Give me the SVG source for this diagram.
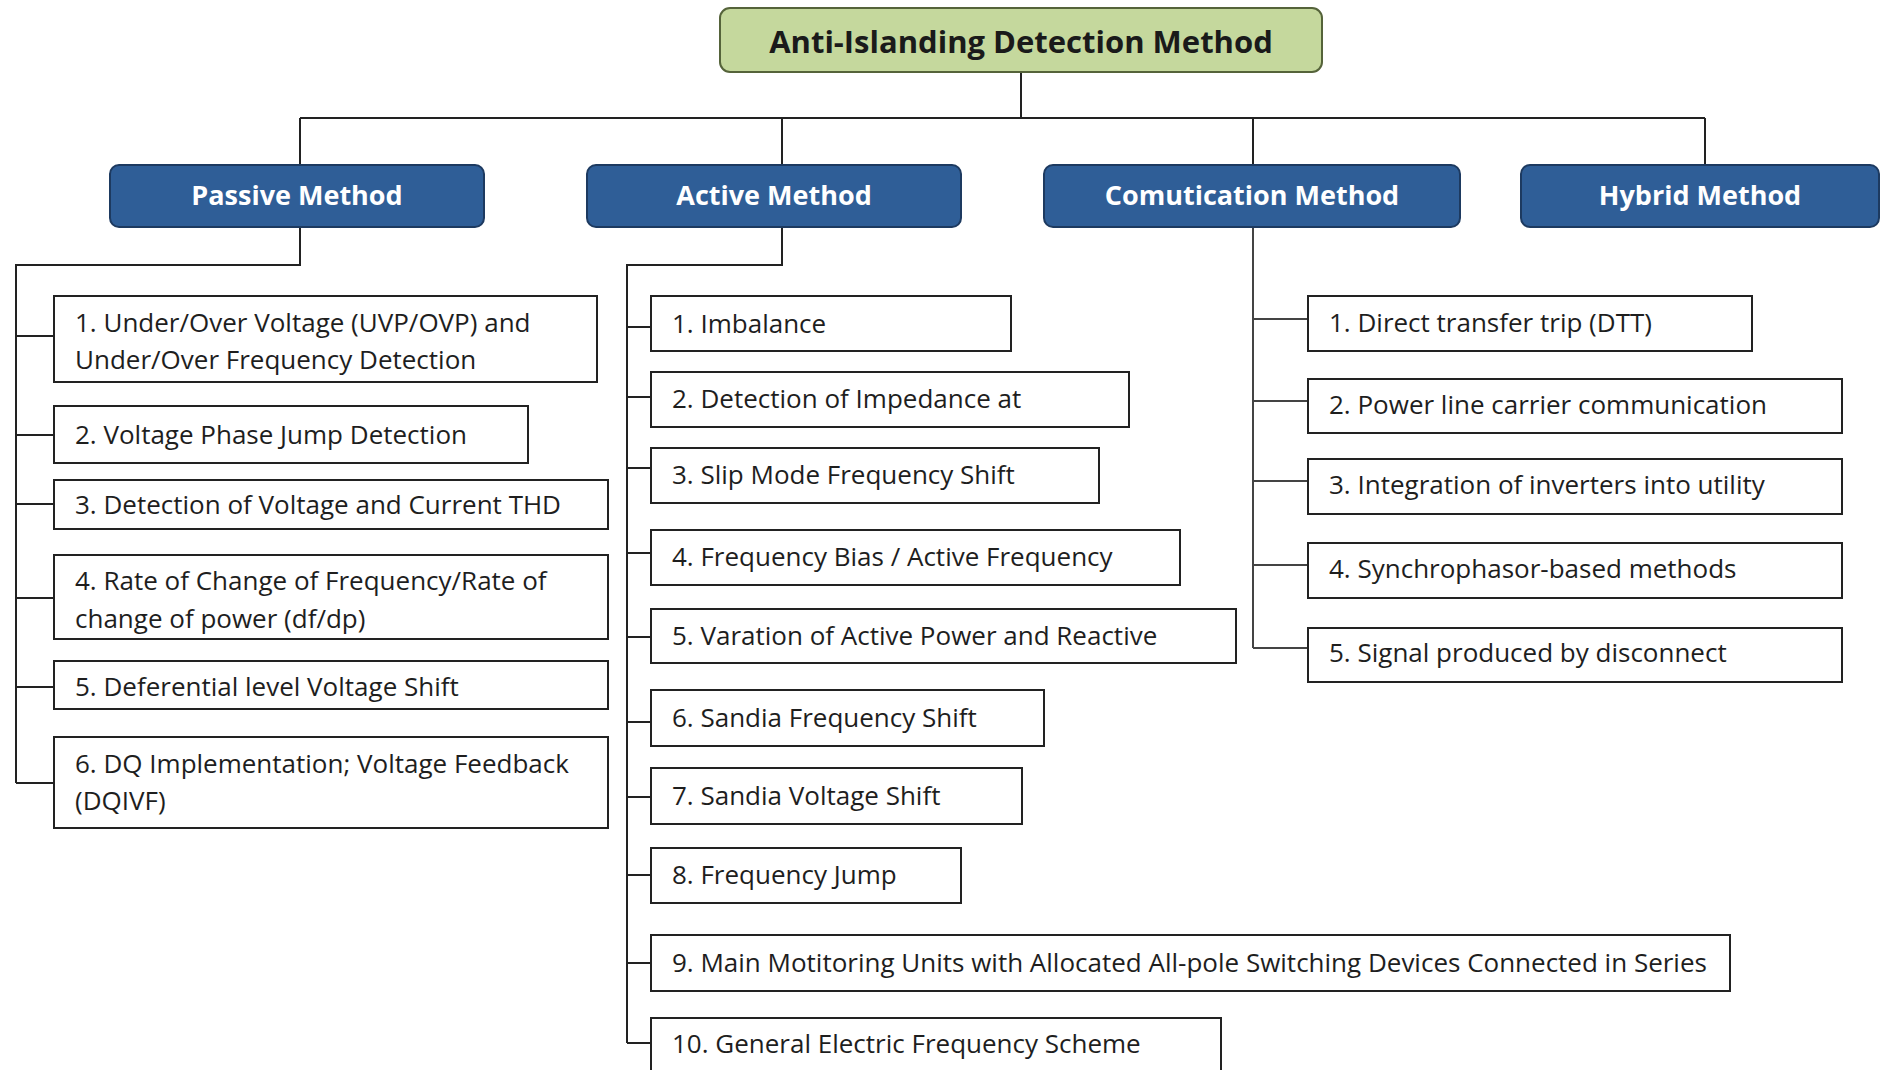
<svg xmlns="http://www.w3.org/2000/svg" width="1883" height="1070" viewBox="0 0 1883 1070">
<style>
.bg{fill:#ffffff}
.root{fill:#c5d89d;stroke:#55633a;stroke-width:2}
.cat{fill:#2f5e97;stroke:#1d3a60;stroke-width:2}
.item{fill:#ffffff;stroke:#222222;stroke-width:2}
.ttl{font-family:"Open Sans","Liberation Sans",sans-serif;font-weight:700;font-size:31px;fill:#1a1a1a;text-anchor:middle}
.ct{font-family:"Open Sans","Liberation Sans",sans-serif;font-weight:700;font-size:27px;fill:#ffffff;text-anchor:middle}
.tx{font-family:"Open Sans","Liberation Sans",sans-serif;font-size:26px;fill:#1e1e1e}
.ln{fill:none;stroke:#222222;stroke-width:2}
.ln2{fill:none;stroke:#444444;stroke-width:2}
</style>
<rect class="bg" x="0" y="0" width="1883" height="1070"/>

<g id="connectors">
  <path class="ln" d="M1021 72V118M300 118H1705M300 118V165M782 118V165M1253 118V165M1705 118V165"/>
  <path class="ln" d="M300 227V265H16V783M16 336H54M16 435H54M16 504H54M16 598H54M16 687H54M16 783H54"/>
  <path class="ln" d="M782 227V265H627V1043M627 327H651M627 397H651M627 468H651M627 553H651M627 637H651M627 722H651M627 797H651M627 875H651M627 963H651M627 1043H651"/>
  <path class="ln2" d="M1253 227V648M1253 319H1308M1253 401H1308M1253 481H1308M1253 565H1308M1253 648H1308"/>
</g>

<g id="root">
  <rect class="root" x="720" y="8" width="602" height="64" rx="10"/>
  <text class="ttl" x="1021" y="53">Anti-Islanding Detection Method</text>
</g>

<g id="passive">
  <rect class="cat" x="110" y="165" width="374" height="62" rx="9"/>
  <text class="ct" x="297" y="205">Passive Method</text>
</g>
<g id="active">
  <rect class="cat" x="587" y="165" width="374" height="62" rx="9"/>
  <text class="ct" x="774" y="205">Active Method</text>
</g>
<g id="comutication">
  <rect class="cat" x="1044" y="165" width="416" height="62" rx="9"/>
  <text class="ct" x="1252" y="205">Comutication Method</text>
</g>
<g id="hybrid">
  <rect class="cat" x="1521" y="165" width="358" height="62" rx="9"/>
  <text class="ct" x="1700" y="205">Hybrid Method</text>
</g>

<g id="p1"><rect class="item" x="54" y="296" width="543" height="86"/><text class="tx" x="75" y="332">1. Under/Over Voltage (UVP/OVP) and</text><text class="tx" x="75" y="369">Under/Over Frequency Detection</text></g>
<g id="p2"><rect class="item" x="54" y="406" width="474" height="57"/><text class="tx" x="75" y="444">2. Voltage Phase Jump Detection</text></g>
<g id="p3"><rect class="item" x="54" y="480" width="554" height="49"/><text class="tx" x="75" y="514">3. Detection of Voltage and Current THD</text></g>
<g id="p4"><rect class="item" x="54" y="555" width="554" height="84"/><text class="tx" x="75" y="590">4. Rate of Change of Frequency/Rate of</text><text class="tx" x="75" y="628">change of power (df/dp)</text></g>
<g id="p5"><rect class="item" x="54" y="661" width="554" height="48"/><text class="tx" x="75" y="696">5. Deferential level Voltage Shift</text></g>
<g id="p6"><rect class="item" x="54" y="737" width="554" height="91"/><text class="tx" x="75" y="773">6. DQ Implementation; Voltage Feedback</text><text class="tx" x="75" y="810">(DQIVF)</text></g>

<g id="a1"><rect class="item" x="651" y="296" width="360" height="55"/><text class="tx" x="672" y="333">1. Imbalance</text></g>
<g id="a2"><rect class="item" x="651" y="372" width="478" height="55"/><text class="tx" x="672" y="408">2. Detection of Impedance at</text></g>
<g id="a3"><rect class="item" x="651" y="448" width="448" height="55"/><text class="tx" x="672" y="484">3. Slip Mode Frequency Shift</text></g>
<g id="a4"><rect class="item" x="651" y="530" width="529" height="55"/><text class="tx" x="672" y="566">4. Frequency Bias / Active Frequency</text></g>
<g id="a5"><rect class="item" x="651" y="609" width="585" height="54"/><text class="tx" x="672" y="645">5. Varation of Active Power and Reactive</text></g>
<g id="a6"><rect class="item" x="651" y="690" width="393" height="56"/><text class="tx" x="672" y="727">6. Sandia Frequency Shift</text></g>
<g id="a7"><rect class="item" x="651" y="768" width="371" height="56"/><text class="tx" x="672" y="805">7. Sandia Voltage Shift</text></g>
<g id="a8"><rect class="item" x="651" y="848" width="310" height="55"/><text class="tx" x="672" y="884">8. Frequency Jump</text></g>
<g id="a9"><rect class="item" x="651" y="935" width="1079" height="56"/><text class="tx" x="672" y="972">9. Main Motitoring Units with Allocated All-pole Switching Devices Connected in Series</text></g>
<g id="a10"><rect class="item" x="651" y="1018" width="570" height="62"/><text class="tx" x="672" y="1053">10. General Electric Frequency Scheme</text></g>

<g id="c1"><rect class="item" x="1308" y="296" width="444" height="55"/><text class="tx" x="1329" y="332">1. Direct transfer trip (DTT)</text></g>
<g id="c2"><rect class="item" x="1308" y="379" width="534" height="54"/><text class="tx" x="1329" y="414">2. Power line carrier communication</text></g>
<g id="c3"><rect class="item" x="1308" y="459" width="534" height="55"/><text class="tx" x="1329" y="494">3. Integration of inverters into utility</text></g>
<g id="c4"><rect class="item" x="1308" y="543" width="534" height="55"/><text class="tx" x="1329" y="578">4. Synchrophasor-based methods</text></g>
<g id="c5"><rect class="item" x="1308" y="628" width="534" height="54"/><text class="tx" x="1329" y="662">5. Signal produced by disconnect</text></g>
</svg>
